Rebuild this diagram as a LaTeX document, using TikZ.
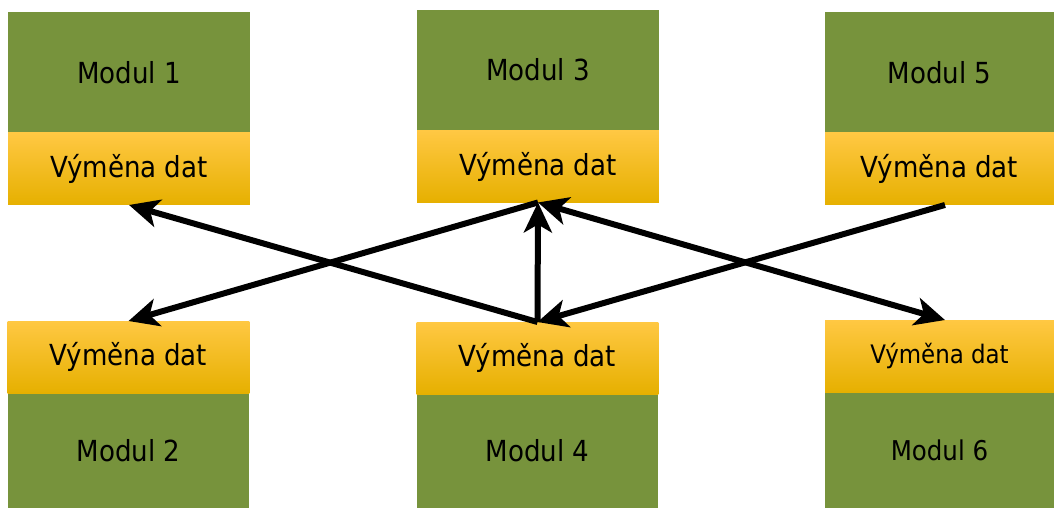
\documentclass[tikz,border=0pt]{standalone}
\usepackage{fontspec}
\setmainfont{DejaVu Sans Condensed}
\usepackage{tikz}
\usetikzlibrary{positioning,arrows.meta}
\definecolor{olive}{HTML}{77933C}
\definecolor{yeltop}{HTML}{FFC843}
\definecolor{yelmid}{HTML}{FFC000}
\definecolor{yelbot}{HTML}{E6B000}

\begin{document}
\begin{tikzpicture}[x=0.02cm, y=-0.02cm, inner sep=0pt, outer sep=0pt,
    modul/.style = {fill=olive, minimum width=4.84cm, minimum height=2.42cm, font=\fontsize{16.5}{19}\selectfont},
    vymena/.style = {top color=yeltop, middle color=yelmid, bottom color=yelbot, minimum width=4.84cm, minimum height=1.44cm, font=\fontsize{16.5}{19}\selectfont},
    tip/.style = {line width=0.12cm, -{Stealth[length=0.6cm, width=0.56cm, inset=0.16cm]}},
    tips/.style = {line width=0.12cm, {Stealth[length=0.6cm, width=0.56cm, inset=0.16cm]}-{Stealth[length=0.6cm, width=0.56cm, inset=0.16cm]}}]
    \useasboundingbox (0,0) rectangle (1054,509);
    \node[modul] (1) at (129,72.5) {Modul 1};
    \node[vymena] (v1) [below=0pt of 1] {Výměna dat};
    \node[modul] (3) at (538,70) {Modul 3};
    \node[vymena] (v3) [below=0pt of 3] {Výměna dat};
    \node[modul, minimum width=4.58cm] (5) at (939.5,72.5) {Modul 5};
    \node[vymena, minimum width=4.58cm] (v5) [below=0pt of 5] {Výměna dat};
    \node[modul, minimum height=2.3cm] (2) at (128.5,450.5) {Modul 2};
    \node[vymena] (v2) [above=0pt of 2] {Výměna dat};
    \node[modul, minimum height=2.28cm] (4) at (537.5,451) {Modul 4};
    \node[vymena] (v4) [above=0pt of 4] {Výměna dat};
    \node[modul, minimum width=4.58cm, minimum height=2.32cm, font=\fontsize{15.5}{18}\selectfont] (6) at (939.5,450) {Modul 6};
    \node[vymena, minimum width=4.58cm, font=\fontsize{14.5}{16}\selectfont] (v6) [above=0pt of 6] {Výměna dat};

    \draw[tip](v4.north) -- (v1.south);
    \draw[tip](v3.south) -- (v2.north);
    \draw[tip](v4.north) -- (v3.south);
    \draw[tips](v3.south) -- ([xshift=0.11cm]v6.north);
    \draw[tip]([xshift=0.11cm]v5.south) -- (v4.north);
\end{tikzpicture}
\end{document}
